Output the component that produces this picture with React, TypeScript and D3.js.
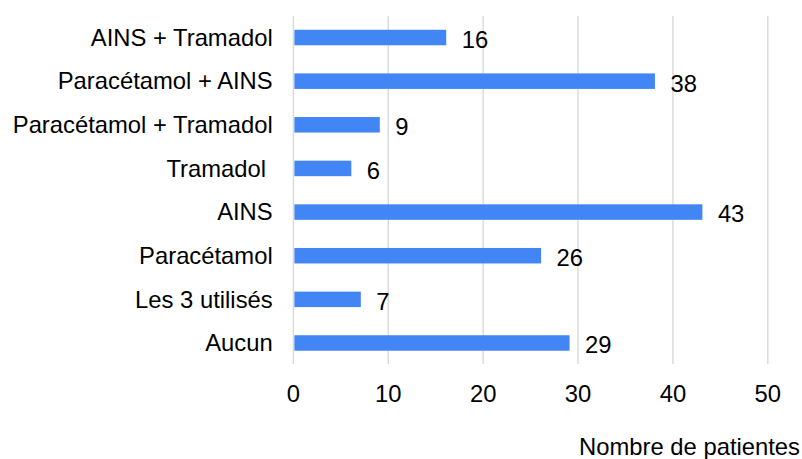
import React from "react";
import * as d3 from "d3";

const categories = [
  "AINS + Tramadol",
  "Paracétamol + AINS",
  "Paracétamol + Tramadol",
  "Tramadol ",
  "AINS",
  "Paracétamol",
  "Les 3 utilisés",
  "Aucun",
];
const values = [16, 38, 9, 6, 43, 26, 7, 29];
const xTicks = [0, 10, 20, 30, 40, 50];
const xTitle = "Nombre de patientes";

const W = 802;
const H = 459;
const FONT = "'Liberation Sans', Arial, sans-serif";
const FS = 23.8;

export default function App() {
  const x = d3.scaleLinear().domain([0, 50]).range([293.4, 767.8]);
  const y = d3
    .scaleBand<string>()
    .domain(categories)
    .range([15.7, 364.8])
    .paddingInner(0.645)
    .paddingOuter(0.3225);
  const bh = y.bandwidth();

  return (
    <svg
      width={W}
      height={H}
      style={{ position: "absolute", left: 0, top: 0, background: "#fff" }}
      fontFamily={FONT}
    >
      <rect width={W} height={H} fill="#fff" />
      {xTicks.map((t) => (
        <line
          key={"g" + t}
          x1={x(t)}
          x2={x(t)}
          y1={16}
          y2={364}
          stroke="#d9d9d9"
          strokeWidth={1.4}
        />
      ))}
      {categories.map((c, i) => {
        const cy = (y(c) as number) + bh / 2;
        return (
          <g key={c}>
            <rect
              x={x(0) + 1}
              y={cy - bh / 2}
              width={x(values[i]) - x(0)}
              height={bh}
              fill="#4285F4"
            />
            <text
              x={272.7}
              y={cy + 8.2}
              textAnchor="end"
              fontSize={FS}
              fill="#000"
              style={{ whiteSpace: "pre" }}
            >
              {c}
            </text>
            <text
              x={x(values[i]) + 1 + 15.5}
              y={cy + 10.4}
              textAnchor="start"
              fontSize={FS}
              fill="#000"
            >
              {values[i]}
            </text>
          </g>
        );
      })}
      {xTicks.map((t) => (
        <text
          key={"t" + t}
          x={x(t)}
          y={402.4}
          textAnchor="middle"
          fontSize={FS}
          fill="#000"
        >
          {t}
        </text>
      ))}
      <text x={800} y={455} textAnchor="end" fontSize={FS} fill="#000">
        {xTitle}
      </text>
    </svg>
  );
}
